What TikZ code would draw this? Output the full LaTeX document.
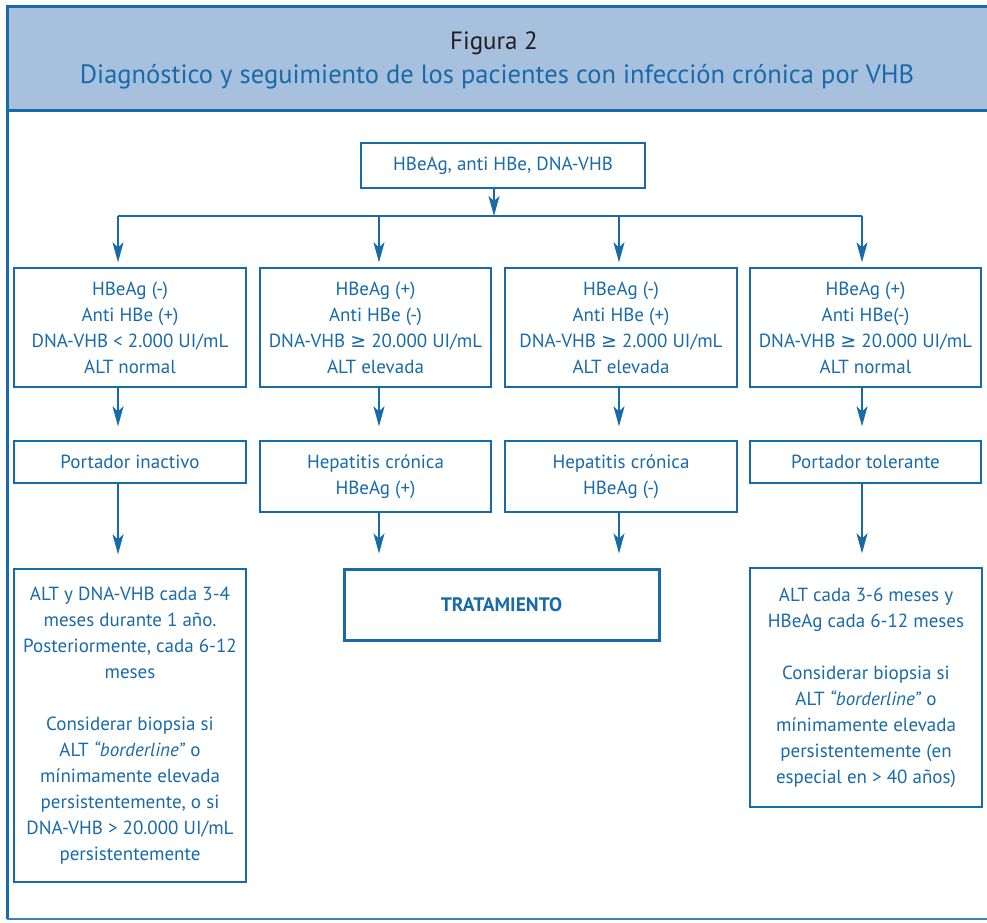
\documentclass[tikz,border=0pt]{standalone}
\usepackage{fontspec}
\setmainfont{PT Sans}
\newfontfamily\symfont{DejaVu Sans}
\usetikzlibrary{arrows.meta}
\definecolor{hblue}{RGB}{24,106,168}
\definecolor{hfill}{RGB}{166,192,222}
\definecolor{hdark}{RGB}{35,31,32}
\begin{document}
\begin{tikzpicture}[x=1pt,y=-1pt,line width=1.4pt,
  box/.style={draw=hblue,line width=1.3pt,text=hblue,align=center,inner sep=0pt,
    font=\fontsize{19}{26}\selectfont},
  arr/.style={draw=hblue,line width=1.6pt,-{Stealth[length=20pt,width=11pt,inset=5pt]}}]
  \useasboundingbox (0,0) rectangle (987,922);
  \fill[hfill] (7,6) rectangle (987,110);
  \draw[hblue,line width=3pt] (987,6)--(7,6)--(7,919);
  \draw[hblue,line width=3pt] (7,110)--(987,110);
  \draw[hblue!85,line width=1.5pt] (7,919)--(987,919);
  \node[text=hdark,font=\fontsize{25}{30}\selectfont] (fig) at (494,43) {Figura 2};
  \node[text=hblue,font=\fontsize{26.5}{30}\selectfont] (title) at (497,77)
    {Diagnóstico y seguimiento de los pacientes con infección crónica por VHB};
  \node[box,minimum width=284pt,minimum height=45pt] (top) at (503,165.5) {HBeAg, anti HBe, DNA-VHB};
  \node[box,minimum width=232pt,minimum height=119pt] (r1a) at (130,327.5)
    {HBeAg (-)\\Anti HBe (+)\\DNA-VHB < 2.000 UI/mL\\ALT normal};
  \node[box,minimum width=231pt,minimum height=119pt] (r1b) at (375.5,327.5)
    {HBeAg (+)\\Anti HBe (-)\\DNA-VHB {\symfont ≥} 20.000 UI/mL\\ALT elevada};
  \node[box,minimum width=232pt,minimum height=119pt] (r1c) at (621,327.5)
    {HBeAg (-)\\Anti HBe (+)\\DNA-VHB {\symfont ≥} 2.000 UI/mL\\ALT elevada};
  \node[box,minimum width=231pt,minimum height=119pt] (r1d) at (865.5,327.5)
    {HBeAg (+)\\Anti HBe(-)\\DNA-VHB {\symfont ≥} 20.000 UI/mL\\ALT normal};
  \node[box,minimum width=232pt,minimum height=42pt] (r2a) at (130,462) {Portador inactivo};
  \node[box,minimum width=231pt,minimum height=71pt] (r2b) at (375.5,476.5) {Hepatitis crónica\\HBeAg (+)};
  \node[box,minimum width=232pt,minimum height=71pt] (r2c) at (621,476.5) {Hepatitis crónica\\HBeAg (-)};
  \node[box,minimum width=231pt,minimum height=42pt] (r2d) at (865.5,462) {Portador tolerante};
  \node[box,minimum width=232pt,minimum height=313pt] (r3a) at (130,725.5)
    {ALT y DNA-VHB cada 3-4\\meses durante 1 año.\\Posteriormente, cada 6-12\\meses\\[26pt]
     Considerar biopsia si\\ALT \textit{“borderline”} o\\mínimamente elevada\\persistentemente, o si\\
     DNA-VHB > 20.000 UI/mL\\persistentemente};
  \node[box,line width=3pt,minimum width=315pt,minimum height=71pt,font=\fontsize{19.5}{22}\bfseries] (trat) at (501.5,604.5) {TRATAMIENTO};
  \node[box,minimum width=232pt,minimum height=239pt] (r3d) at (866,687.5)
    {ALT cada 3-6 meses y\\HBeAg cada 6-12 meses\\[26pt]
     Considerar biopsia si\\ALT \textit{“borderline”} o\\mínimamente elevada\\persistentemente (en\\especial en > 40 años)};
  \coordinate (c0) at (494,0);
  \coordinate (c1) at (118,0);
  \coordinate (c2) at (379,0);
  \coordinate (c3) at (619,0);
  \coordinate (c4) at (862,0);
  \coordinate (bus) at (0,216);
  \draw[arr] (c0 |- top.south)--(c0 |- bus);
  \draw[hblue,line width=1.6pt] (c1 |- bus)--(c4 |- bus);
  \foreach \c/\r in {1/a,2/b,3/c,4/d}{
    \draw[arr,shorten >=5pt] (c\c |- bus)--(c\c |- r1\r.north);
    \draw[arr,shorten >=14pt] (c\c |- r1\r.south)--(c\c |- r2\r.north);
  }
  \draw[arr,shorten >=14pt] (c1 |- r2a.south)--(c1 |- r3a.north);
  \draw[arr,shorten >=14pt] (c2 |- r2b.south)--(c2 |- trat.north);
  \draw[arr,shorten >=14pt] (c3 |- r2c.south)--(c3 |- trat.north);
  \draw[arr,shorten >=14pt] (c4 |- r2d.south)--(c4 |- r3d.north);
\end{tikzpicture}
\end{document}
